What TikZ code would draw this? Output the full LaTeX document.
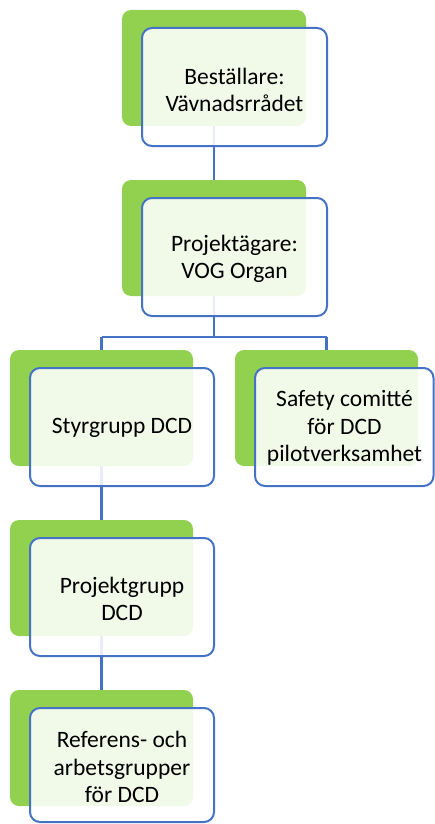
\documentclass[tikz,border=0pt]{standalone}
\usepackage{fontspec}
\setmainfont{Carlito}
\definecolor{grn}{HTML}{92D050}
\definecolor{blu}{HTML}{4472C4}
\begin{document}
\begin{tikzpicture}[x=1pt,y=-1pt,
  back/.style={fill=grn,rounded corners=9pt},
  front/.style={draw=blu,line width=2pt,fill=white,fill opacity=0.88,text opacity=1,rounded corners=10pt},
  lbl/.style={align=center,font=\fontsize{23.5}{27.5}\selectfont,text=black},
  conn/.style={draw=blu,line width=2.2pt}]
\useasboundingbox (0,0) rectangle (435,824);
% connectors (behind boxes)
\coordinate (g1) at (214,68);
\coordinate (g2) at (214,238);
\coordinate (g3) at (101.5,408);
\coordinate (g3r) at (326.5,408);
\coordinate (g4) at (101.5,578);
\coordinate (g5) at (101.5,748);
\coordinate (jL) at (101.5,337);
\coordinate (jR) at (326.5,337);
\coordinate (jM) at (214,337);
\draw[conn] (g1) -- (g2);
\draw[conn] (g2) -- (jM);
\draw[conn] (jL) -- (jR);
\draw[conn] (jL) -- (g3);
\draw[conn] (jR) -- (g3r);
\draw[conn] (g3) -- (g4);
\draw[conn] (g4) -- (g5);
% green back boxes
\path[back] (122,10) rectangle (306,126);
\path[back] (122,180) rectangle (306,296);
\path[back] (10,350) rectangle (193,466);
\path[back] (235,350) rectangle (418,466);
\path[back] (10,520) rectangle (193,636);
\path[back] (10,690) rectangle (193,806);
% front boxes
\path[front] (142,28) rectangle (327,146);
\path[front] (142,198) rectangle (327,316);
\path[front] (30,368) rectangle (214,486);
\path[front] (255,368) rectangle (433.5,486);
\path[front] (30,538) rectangle (214,656);
\path[front] (30,708) rectangle (214,822);
% labels
\node[lbl] (t1) at (234.5,90) {Beställare:\\Vävnadsrrådet};
\node[lbl] (t2) at (234.5,259) {Projektägare:\\VOG Organ};
\node[lbl] (t3) at (122,428) {Styrgrupp DCD};
\node[lbl] (t3r) at (344.5,428) {Safety comitté\\för DCD\\pilotverksamhet};
\node[lbl] (t4) at (122,599) {Projektgrupp\\DCD};
\node[lbl] (t5) at (122,767) {Referens- och\\arbetsgrupper\\för DCD};
\end{tikzpicture}
\end{document}
